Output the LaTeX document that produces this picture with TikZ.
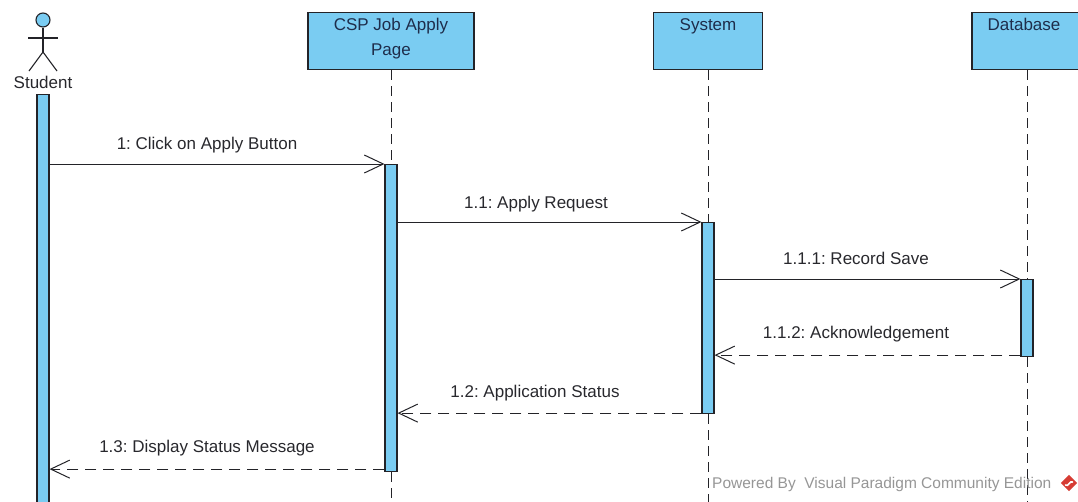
\documentclass[tikz,border=0pt]{standalone}
\usepackage{fontspec}
\setmainfont{Liberation Sans}
\usetikzlibrary{arrows.meta}
\definecolor{vpblue}{RGB}{122,204,242}
\definecolor{vpline}{RGB}{35,35,40}
\definecolor{vptext}{RGB}{40,40,45}
\definecolor{vphead}{RGB}{30,45,75}
\definecolor{vpwm}{RGB}{150,150,150}
\definecolor{vplogo}{RGB}{214,60,52}
\begin{document}
\frenchspacing
\begin{tikzpicture}[x=1pt,y=-1pt,
  hdrbox/.style={draw=vpline, line width=1.2pt, fill=vpblue, minimum height=57pt, anchor=north, inner sep=0pt},
  hdrtxt/.style={font=\fontsize{17}{25}\selectfont, text=vphead, anchor=base, inner sep=0pt},
  actbar/.style={draw=vpline, line width=1.1pt, fill=vpblue, minimum width=12pt, anchor=north, inner sep=0pt},
  lifeline/.style={draw=vpline, line width=1pt, dash pattern=on 10pt off 6pt},
  msg/.style={draw=vpline, line width=1pt, -{Straight Barb[length=19pt,width=18pt,line width=1pt]}},
  retmsg/.style={msg, dash pattern=on 11pt off 7pt},
  lbl/.style={font=\fontsize{17}{20}\selectfont, text=vptext, anchor=base, inner sep=0pt},
  actor/.style={draw=vpline, line width=1.1pt}
]
\useasboundingbox (0,0) rectangle (1078,501);
\coordinate (bot) at (0,503);

% Actor Student
\node[circle, draw=vpline, line width=1.1pt, fill=vpblue, minimum size=14pt, inner sep=0pt] (head) at (43,20) {};
\coordinate (hip) at (43,52);
\coordinate (larm) at (28,38);
\coordinate (rarm) at (58,38);
\coordinate (lleg) at (29,71);
\coordinate (rleg) at (57,71);
\draw[actor] (head.south) -- (hip);
\draw[actor] (larm) -- (rarm);
\draw[actor] (lleg) -- (hip) -- (rleg);
\node[lbl] (student) at (43,88) {Student};

% Header boxes
\node[hdrbox, minimum width=166pt] (csp) at (391,12) {};
\node[hdrtxt] (csp1) at (391,30.5) {CSP Job Apply};
\node[hdrtxt] (csp2) at (391,55.5) {Page};
\node[hdrbox, minimum width=109pt] (sys) at (708,12) {};
\node[hdrtxt] (systxt) at (708,30.5) {System};
\node[hdrbox, minimum width=110pt] (db) at (1027,12) {};
\node[hdrtxt] (dbtxt) at (1024,30.5) {Database};

% Activation bars
\node[actbar, minimum height=412pt] (sbar) at (43,94) {};
\node[actbar, minimum height=307pt] (cspbar) at (391,164) {};
\node[actbar, minimum height=191pt] (sysbar) at (708,222) {};
\node[actbar, minimum height=77pt] (dbbar) at (1027,279) {};

% Lifelines
\draw[lifeline] (csp.south) -- (cspbar.north);
\draw[lifeline] (cspbar.south) -- (cspbar.south |- bot);
\draw[lifeline] (sys.south) -- (sysbar.north);
\draw[lifeline] (sysbar.south) -- (sysbar.south |- bot);
\draw[lifeline] (db.south) -- (dbbar.north);
\draw[lifeline] (dbbar.south) -- (dbbar.south |- bot);

% Return message end points
\coordinate (r112a) at ([yshift=2pt]dbbar.south west);
\coordinate (r112b) at (sysbar.east |- r112a);
\coordinate (r12a) at ([yshift=1pt]sysbar.south west);
\coordinate (r12b) at (cspbar.east |- r12a);
\coordinate (r13a) at ([yshift=3pt]cspbar.south west);
\coordinate (r13b) at (sbar.east |- r13a);

% Messages
\draw[msg] (sbar.east |- cspbar.north) -- (cspbar.north west);
\node[lbl] (m1) at (207,149.5) {1: Click on Apply Button};
\draw[msg] (cspbar.east |- sysbar.north) -- (sysbar.north west);
\node[lbl] (m11) at (536,208.5) {1.1: Apply Request};
\draw[msg] (sysbar.east |- dbbar.north) -- (dbbar.north west);
\node[lbl] (m111) at (856,264.5) {1.1.1: Record Save};
\draw[retmsg] (r112a) -- (r112b);
\node[lbl] (m112) at (856,338.5) {1.1.2: Acknowledgement};
\draw[retmsg] (r12a) -- (r12b);
\node[lbl] (m12) at (535,397.5) {1.2: Application Status};
\draw[retmsg] (r13a) -- (r13b);
\node[lbl] (m13) at (207,452.5) {1.3: Display Status Message};

% Watermark
\node[font=\fontsize{15.5}{18}\selectfont, text=vpwm, anchor=base west, inner sep=0pt] (wm) at (712,488) {Powered By\ \ Visual Paradigm Community Edition};
\node[fill=vplogo, minimum size=11.5pt, inner sep=0pt, rotate=45] (logo) at (1069,483) {};
\draw[white, line width=1.6pt, line cap=round] (1065.5,485) .. controls (1068,487.5) and (1070,480) .. (1072.5,482);
\end{tikzpicture}
\end{document}
